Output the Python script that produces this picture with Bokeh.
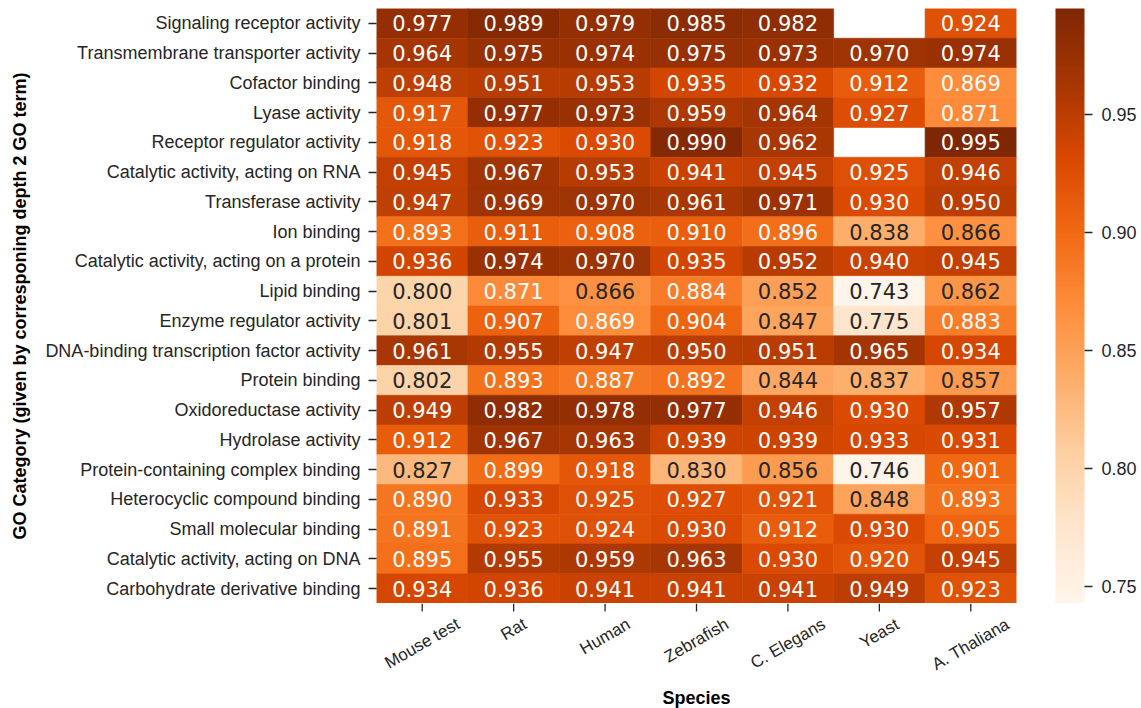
import numpy as np
from bokeh.plotting import figure
from bokeh.layouts import column
from bokeh.models import (ColumnDataSource, LinearColorMapper, ColorBar, FixedTicker,
                          PrintfTickFormatter, FactorRange, Range1d)
from bokeh.transform import transform
from bokeh.core.properties import value
from bokeh.embed import file_html
from bokeh.resources import INLINE

categories = [
    "Signaling receptor activity",
    "Transmembrane transporter activity",
    "Cofactor binding",
    "Lyase activity",
    "Receptor regulator activity",
    "Catalytic activity, acting on RNA",
    "Transferase activity",
    "Ion binding",
    "Catalytic activity, acting on a protein",
    "Lipid binding",
    "Enzyme regulator activity",
    "DNA-binding transcription factor activity",
    "Protein binding",
    "Oxidoreductase activity",
    "Hydrolase activity",
    "Protein-containing complex binding",
    "Heterocyclic compound binding",
    "Small molecular binding",
    "Catalytic activity, acting on DNA",
    "Carbohydrate derivative binding",
]
species = ["Mouse test", "Rat", "Human", "Zebrafish", "C. Elegans", "Yeast", "A. Thaliana"]

mouse_test = [0.977, 0.964, 0.948, 0.917, 0.918, 0.945, 0.947, 0.893, 0.936, 0.800,
              0.801, 0.961, 0.802, 0.949, 0.912, 0.827, 0.890, 0.891, 0.895, 0.934]
rat = [0.989, 0.975, 0.951, 0.977, 0.923, 0.967, 0.969, 0.911, 0.974, 0.871,
       0.907, 0.955, 0.893, 0.982, 0.967, 0.899, 0.933, 0.923, 0.955, 0.936]
human = [0.979, 0.974, 0.953, 0.973, 0.930, 0.953, 0.970, 0.908, 0.970, 0.866,
         0.869, 0.947, 0.887, 0.978, 0.963, 0.918, 0.925, 0.924, 0.959, 0.941]
zebrafish = [0.985, 0.975, 0.935, 0.959, 0.990, 0.941, 0.961, 0.910, 0.935, 0.884,
             0.904, 0.950, 0.892, 0.977, 0.939, 0.830, 0.927, 0.930, 0.963, 0.941]
c_elegans = [0.982, 0.973, 0.932, 0.964, 0.962, 0.945, 0.971, 0.896, 0.952, 0.852,
             0.847, 0.951, 0.844, 0.946, 0.939, 0.856, 0.921, 0.912, 0.930, 0.941]
yeast = [None, 0.970, 0.912, 0.927, None, 0.925, 0.930, 0.838, 0.940, 0.743,
         0.775, 0.965, 0.837, 0.930, 0.933, 0.746, 0.848, 0.930, 0.920, 0.949]
a_thaliana = [0.924, 0.974, 0.869, 0.871, 0.995, 0.946, 0.950, 0.866, 0.945, 0.862,
              0.883, 0.934, 0.857, 0.957, 0.931, 0.901, 0.893, 0.905, 0.945, 0.923]

series = [mouse_test, rat, human, zebrafish, c_elegans, yeast, a_thaliana]
colorbar_ticks = [0.75, 0.80, 0.85, 0.90, 0.95]
x_title = "Species"
y_title = "GO Category (given by corresponing depth 2 GO term)"

# matplotlib "Oranges" colormap (ColorBrewer anchors), interpolated to 256 steps
anchors = ["#fff5eb", "#fee6ce", "#fdd0a2", "#fdae6b", "#fd8d3c",
           "#f16913", "#d94801", "#a63603", "#7f2704"]
arr = np.array([[int(h[i:i + 2], 16) for i in (1, 3, 5)] for h in anchors], float)
pos = np.linspace(0, 1, len(anchors))
t = np.linspace(0, 1, 256)
rgb = np.stack([np.interp(t, pos, arr[:, k]) for k in range(3)], axis=1)
palette = ["#%02x%02x%02x" % tuple(int(round(c)) for c in row) for row in rgb]

xs, ys, vals, labels, tcols = [], [], [], [], []
for sp, col in zip(species, series):
    for cat, v in zip(categories, col):
        if v is None:
            continue
        xs.append(sp)
        ys.append(cat)
        vals.append(v)
        labels.append("%.3f" % v)
        tcols.append("#262626" if v < 0.8675 else "#ffffff")

all_vals = np.array(vals)
low, high = float(all_vals.min()), float(all_vals.max())

source = ColumnDataSource(dict(x=xs, y=ys, v=vals, label=labels, tc=tcols))
mapper = LinearColorMapper(palette=palette, low=low, high=high)

FW, FH = 640, 595
LEFT, RIGHT, TOP, BOTTOM = 376, 125, 8, 105

# ---- heatmap ----
p = figure(x_range=FactorRange(*species), y_range=FactorRange(*categories[::-1]),
           frame_width=FW, frame_height=FH, x_axis_location=None,
           min_border_left=LEFT, min_border_top=TOP, min_border_bottom=0, min_border_right=RIGHT,
           output_backend="svg", toolbar_location=None, background_fill_color="white",
           border_fill_color="white")
p.outline_line_color = None
p.grid.grid_line_color = None

p.rect(x="x", y="y", width=1, height=1, source=source,
       fill_color=transform("v", mapper), line_color=transform("v", mapper), line_width=0.6)
p.text(x="x", y="y", text="label", source=source, text_color="tc",
       text_align="center", text_baseline="middle",
       text_font=value("DejaVu Sans"), text_font_size="21px")

ax = p.yaxis[0]
ax.axis_line_color = None
ax.major_tick_in = 0
ax.major_tick_out = 8
ax.major_tick_line_color = "#262626"
ax.major_tick_line_width = 1.3
ax.minor_tick_line_color = None
ax.major_label_text_font = "Liberation Sans"
ax.major_label_text_font_size = "18px"
ax.major_label_text_color = "#262626"
ax.major_label_standoff = 8
ax.axis_label = y_title
ax.axis_label_standoff = 12
ax.axis_label_text_font = "Liberation Sans"
ax.axis_label_text_font_size = "18px"
ax.axis_label_text_font_style = "bold"
ax.axis_label_text_color = "#000000"

cb = ColorBar(color_mapper=mapper, width=29, height=FH, location=(FW + 39, 0),
              padding=0, margin=0,
              ticker=FixedTicker(ticks=colorbar_ticks),
              formatter=PrintfTickFormatter(format="%.2f"),
              major_tick_in=0, major_tick_out=8, major_tick_line_color="#262626",
              major_tick_line_width=1.3, label_standoff=9,
              major_label_text_font="Liberation Sans", major_label_text_font_size="18px",
              major_label_text_color="#262626", bar_line_color=None,
              background_fill_color=None, border_line_color=None)
p.add_layout(cb, "center")

# ---- x axis strip (ticks, rotated species labels centred under ticks, title) ----
p2 = figure(x_range=p.x_range, y_range=Range1d(0, BOTTOM),
            frame_width=FW, frame_height=BOTTOM,
            x_axis_location=None, y_axis_location=None,
            min_border_left=LEFT, min_border_right=RIGHT, min_border_top=0, min_border_bottom=0,
            output_backend="svg", toolbar_location=None, background_fill_color="white",
            border_fill_color="white")
p2.outline_line_color = None
p2.grid.grid_line_color = None

p2.segment(x0=species, y0=[BOTTOM] * len(species), x1=species, y1=[BOTTOM - 8] * len(species),
           line_color="#262626", line_width=1.3)

arial = {" ": 278, ".": 278, "A": 667, "C": 722, "E": 667, "H": 722, "M": 833, "R": 722,
         "T": 611, "Y": 667, "Z": 611, "a": 556, "b": 556, "e": 556, "f": 278, "g": 556,
         "h": 556, "i": 222, "l": 222, "m": 833, "n": 556, "o": 556, "r": 333, "s": 500,
         "t": 278, "u": 556}
fs = 17
ang = np.pi / 6
lab_y = []
for sp in species:
    w = sum(arial.get(ch, 556) for ch in sp) / 1000 * fs
    h = 1.12 * fs
    H = w * np.sin(ang) + h * np.cos(ang)
    lab_y.append(BOTTOM - (11 + H / 2))
p2.text(x=species, y=lab_y, text=species, angle=ang, text_align="center",
        text_baseline="middle", text_font=value("Liberation Sans"), text_font_size="17px",
        text_color="#262626")
p2.text(x=[len(species) / 2], y=[BOTTOM - 94], text=[x_title], text_align="center",
        text_baseline="middle", text_font=value("Liberation Sans"), text_font_size="18px",
        text_font_style="bold", text_color="#000000")

layout = column(p, p2, spacing=0)
open("out.html", "w").write(file_html(layout, INLINE))
